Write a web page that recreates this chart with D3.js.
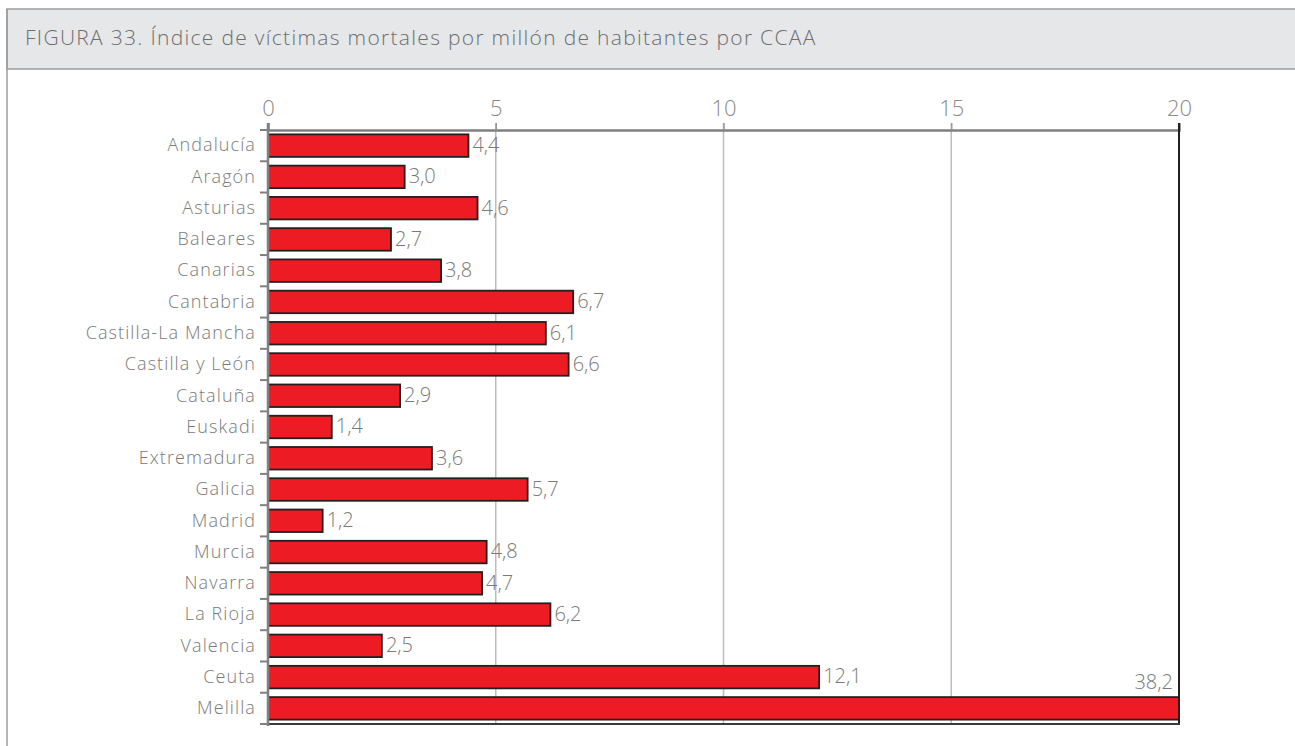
<!DOCTYPE html>
<html><head><meta charset="utf-8">
<script src="https://cdn.jsdelivr.net/npm/d3@7"></script>
<style>
html,body{margin:0;padding:0;background:#fff;}
svg{display:block;}
</style></head>
<body>
<svg id="c" width="1295" height="746"></svg>
<script>
const title = "FIGURA 33. Índice de víctimas mortales por millón de habitantes por CCAA";
const categories = ["Andalucía","Aragón","Asturias","Baleares","Canarias","Cantabria","Castilla-La Mancha","Castilla y León","Cataluña","Euskadi","Extremadura","Galicia","Madrid","Murcia","Navarra","La Rioja","Valencia","Ceuta","Melilla"];
const values = [4.4,3.0,4.6,2.7,3.8,6.7,6.1,6.6,2.9,1.4,3.6,5.7,1.2,4.8,4.7,6.2,2.5,12.1,38.2];
const xTicks = [0,5,10,15,20];
const xMax = 20;

const svg = d3.select("#c");
const font = "'Open Sans', Roboto, sans-serif";

// frame
svg.append("rect").attr("x",7).attr("y",9).attr("width",1295).attr("height",60)
  .attr("fill","#e6e7e8").attr("stroke","#9d9d9d").attr("stroke-width",1.5);
svg.append("line").attr("x1",7).attr("x2",7).attr("y1",9).attr("y2",746).attr("stroke","#9d9d9d").attr("stroke-width",1.5);
svg.append("text").attr("x",25).attr("y",39).attr("dominant-baseline","middle")
  .attr("font-family",font).attr("font-weight",300).attr("font-size",21).attr("letter-spacing",1.3).attr("fill","#6d6e70")
  .text(title);

const x = d3.scaleLinear().domain([0,xMax]).range([268,1179]);
const y = d3.scaleBand().domain(categories).range([130,724]).paddingInner(0.28).paddingOuter(0.14);

// gridlines
svg.append("g").selectAll("line").data(xTicks.filter(t=>t>0 && t<xMax)).join("line")
  .attr("x1",d=>x(d)).attr("x2",d=>x(d)).attr("y1",123).attr("y2",724)
  .attr("stroke","#bdbdbd").attr("stroke-width",1.5);

// top axis
const gx = svg.append("g").attr("transform","translate(0,130)")
  .call(d3.axisTop(x).tickValues(xTicks).tickSize(7).tickPadding(7).tickFormat(d3.format("d")));
gx.select(".domain").attr("stroke","#808080").attr("stroke-width",2.5);
gx.selectAll(".tick line").attr("stroke","#9a9a9a").attr("stroke-width",1.5);
gx.selectAll(".tick text").attr("font-family",font).attr("font-weight",300).attr("font-size",22).attr("fill","#8a8a8a");

// bars
svg.append("g").selectAll("rect").data(values).join("rect")
  .attr("x",x(0)).attr("y",(d,i)=>y(categories[i]))
  .attr("width",d=>x(Math.min(d,xMax))-x(0)).attr("height",y.bandwidth())
  .attr("fill","#ed1c24").attr("stroke","#231f20").attr("stroke-width",1.8);

// right & bottom frame of plot
svg.append("line").attr("x1",x(xMax)).attr("x2",x(xMax)).attr("y1",123).attr("y2",725)
  .attr("stroke","#231f20").attr("stroke-width",2);
svg.append("line").attr("x1",x(0)).attr("x2",x(xMax)+1).attr("y1",724).attr("y2",724)
  .attr("stroke","#3a3a3a").attr("stroke-width",2);

// left axis
const step = y.step();
const bounds = categories.map((c,i)=>130+i*step).concat([724]);
svg.append("line").attr("x1",268).attr("x2",268).attr("y1",123).attr("y2",726).attr("stroke","#808080").attr("stroke-width",2.5);
svg.append("g").selectAll("line").data(bounds).join("line")
  .attr("x1",260).attr("x2",268).attr("y1",d=>d).attr("y2",d=>d)
  .attr("stroke","#808080").attr("stroke-width",2);
svg.append("g").selectAll("text").data(categories).join("text")
  .attr("x",256).attr("y",d=>y(d)+y.bandwidth()/2+1).attr("text-anchor","end").attr("dominant-baseline","middle")
  .attr("font-family",font).attr("font-weight",300).attr("font-size",18).attr("letter-spacing",1.1).attr("fill","#7a7a7a")
  .text(d=>d);

// value labels
const fmt = v => v.toFixed(1).replace(".",",");
svg.append("g").selectAll("text").data(values).join("text")
  .attr("x",d=> d>xMax ? x(xMax)-6 : x(d)+4)
  .attr("y",(d,i)=> d>xMax ? y(categories[i])-13 : y(categories[i])+y.bandwidth()/2+1)
  .attr("text-anchor",d=>d>xMax?"end":"start").attr("dominant-baseline","middle")
  .attr("font-family",font).attr("font-weight",300).attr("font-size",20).attr("fill","#7a7a7a")
  .text(d=>fmt(d));
</script>
</body></html>
